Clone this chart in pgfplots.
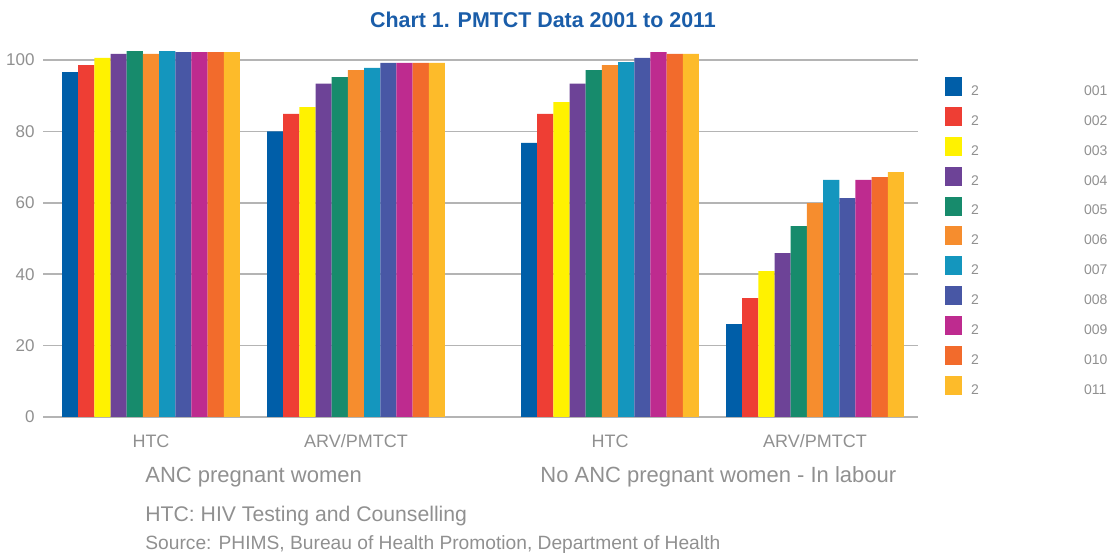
\documentclass[border=0pt]{standalone}
\usepackage{fontspec}
\setmainfont{Liberation Sans}
\usepackage{pgfplots}
\usepackage{pgfplotstable}
\pgfplotsset{compat=1.18}
\definecolor{c1}{HTML}{005EA8}
\definecolor{c2}{HTML}{EE3E34}
\definecolor{c3}{HTML}{FFF200}
\definecolor{c4}{HTML}{6D4397}
\definecolor{c5}{HTML}{178B6C}
\definecolor{c6}{HTML}{F68D2E}
\definecolor{c7}{HTML}{1496BE}
\definecolor{c8}{HTML}{4857A5}
\definecolor{c9}{HTML}{BE2B8F}
\definecolor{c10}{HTML}{F26B2C}
\definecolor{c11}{HTML}{FDBB2A}
\definecolor{titleblue}{HTML}{1A5DA9}
\definecolor{txtgray}{HTML}{909090}
\definecolor{gridgray}{HTML}{B4B4B4}
\pgfplotsset{sqlegend/.style={legend image code/.code={\fill[##1] (0pt,-2pt) rectangle (8.5pt,7.5pt);}}}
\pgfplotstableread{
x    a    b     c     d     e     f     g     h     i     j     k
151  96.6 98.6  100.6 101.7 102.5 101.7 102.5 102.2 102.2 102.2 102.2
356  80.0 84.9  86.8  93.4  95.2  97.2  97.8  99.2  99.2  99.2  99.2
610  76.8 84.9  88.2  93.4  97.2  98.6  99.4  100.6 102.2 101.7 101.7
815  26.0 33.3  40.9  45.9  53.5  59.9  66.4  61.3  66.4  67.2  68.6
}\data
\begin{document}
\begin{tikzpicture}[x=1pt,y=1pt]
\path[use as bounding box] (0,0) rectangle (560,-277.5);
\begin{axis}[
  at={(21.5pt,-208.5pt)}, anchor=south west,
  scale only axis, width=437.5pt, height=187.4pt,
  xmin=43, xmax=918, ymin=0, ymax=105,
  ybar=0pt, bar width=8.09pt,
  ytick={0,20,...,100},
  xtick={151,356,610,815},
  xticklabels={HTC,ARV/PMTCT,HTC,ARV/PMTCT},
  ymajorgrids, grid style={line width=0.75pt, color=gridgray},
  major tick length=0pt,
  axis line style={draw=none},
  tick label style={text=txtgray},
  yticklabel style={font=\fontsize{8.5}{10}\selectfont, anchor=east, inner sep=0pt, xshift=-4pt},
  xticklabel style={font=\fontsize{9}{10}\selectfont, anchor=base, inner sep=0pt, yshift=-15.5pt},
  /pgf/number format/assume math mode=true,
  every axis plot post/.append style={sqlegend, draw=none},
  legend cell align=left,
  legend style={at={(1.0309,0.9072)}, anchor=north west, draw=none, fill=none,
    inner sep=0pt, outer sep=0pt, font=\fontsize{7}{8}\selectfont, text=txtgray,
    row sep=4.25pt, nodes={inner sep=0pt},
    /tikz/every odd column/.append style={column sep=4.5pt}},
  clip=false,
]
\addplot[fill=c1] table[x=x,y=a]{\data}; \addlegendentry{\makebox[56.5pt][l]{2}001}
\addplot[fill=c2] table[x=x,y=b]{\data}; \addlegendentry{\makebox[56.5pt][l]{2}002}
\addplot[fill=c3] table[x=x,y=c]{\data}; \addlegendentry{\makebox[56.5pt][l]{2}003}
\addplot[fill=c4] table[x=x,y=d]{\data}; \addlegendentry{\makebox[56.5pt][l]{2}004}
\addplot[fill=c5] table[x=x,y=e]{\data}; \addlegendentry{\makebox[56.5pt][l]{2}005}
\addplot[fill=c6] table[x=x,y=f]{\data}; \addlegendentry{\makebox[56.5pt][l]{2}006}
\addplot[fill=c7] table[x=x,y=g]{\data}; \addlegendentry{\makebox[56.5pt][l]{2}007}
\addplot[fill=c8] table[x=x,y=h]{\data}; \addlegendentry{\makebox[56.5pt][l]{2}008}
\addplot[fill=c9] table[x=x,y=i]{\data}; \addlegendentry{\makebox[56.5pt][l]{2}009}
\addplot[fill=c10] table[x=x,y=j]{\data}; \addlegendentry{\makebox[56.5pt][l]{2}010}
\addplot[fill=c11] table[x=x,y=k]{\data}; \addlegendentry{\makebox[56.5pt][l]{2}011}
\end{axis}
\node[anchor=base, inner sep=0pt, font=\bfseries\fontsize{10.7}{12}\selectfont, text=titleblue] at (271.5,-13.7) {Chart 1. PMTCT Data 2001 to 2011};
\node[anchor=base west, inner sep=0pt, font=\fontsize{11}{12}\selectfont, text=txtgray] at (72.5,-241.3) {ANC pregnant women};
\node[anchor=base west, inner sep=0pt, font=\fontsize{11}{12}\selectfont, text=txtgray] at (270,-241.3) {No ANC pregnant women - In labour};
\node[anchor=base west, inner sep=0pt, font=\fontsize{10.6}{12}\selectfont, text=txtgray] at (72.5,-260.8) {HTC: HIV Testing and Counselling};
\node[anchor=base west, inner sep=0pt, font=\fontsize{9.6}{11}\selectfont, text=txtgray] at (72.5,-274.7) {Source: PHIMS, Bureau of Health Promotion, Department of Health};
\end{tikzpicture}
\end{document}
